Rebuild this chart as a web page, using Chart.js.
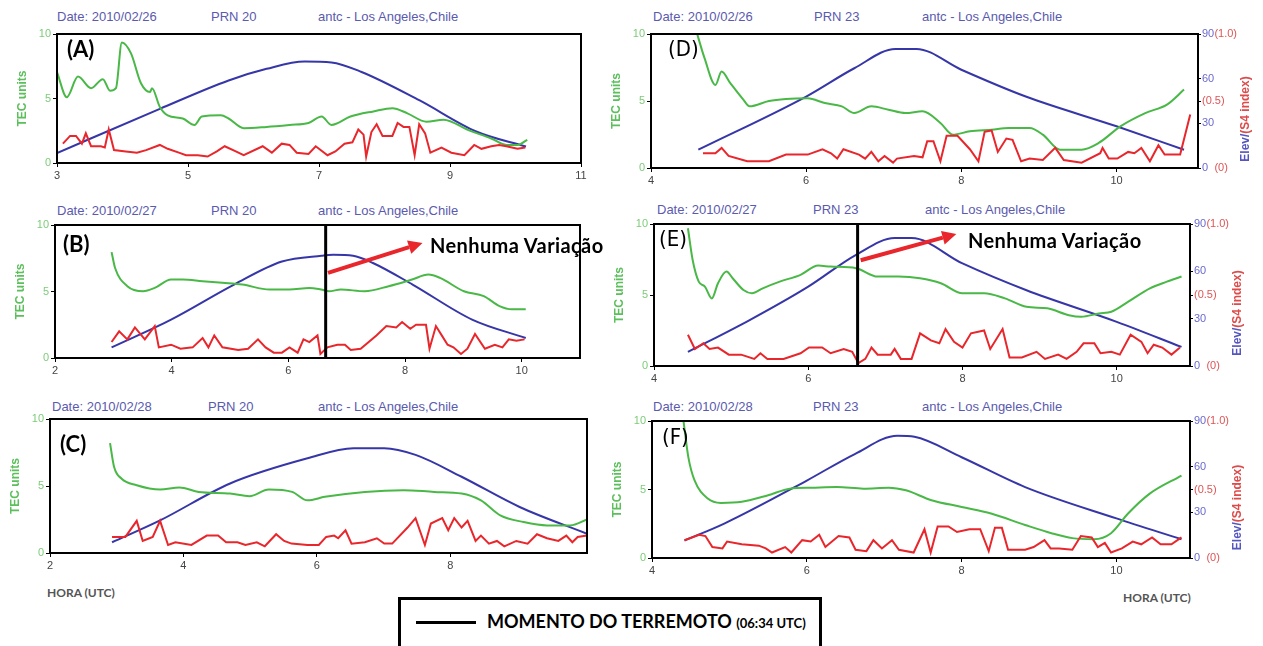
<!DOCTYPE html>
<html><head><meta charset="utf-8">
<script src="https://cdn.jsdelivr.net/npm/chart.js@4.4.1/dist/chart.umd.min.js"></script>
<style>
body{margin:0;background:#fff;width:1263px;height:646px;overflow:hidden;position:relative;font-family:"Liberation Sans",Arial,sans-serif}
canvas{position:absolute}
.hd{position:absolute;color:#5a5aae;font-size:13px;white-space:nowrap}
.lt{position:absolute;font:bold 22px Lato,sans-serif;color:#000}
.lt.n{font:22px "Liberation Sans Narrow","DejaVu Sans Condensed",sans-serif}
.nv{position:absolute;font:bold 20px Lato,sans-serif;letter-spacing:0.4px;color:#000;white-space:nowrap}
.hora{position:absolute;font:bold 12px Lato,sans-serif;color:#555}
#leg{position:absolute;left:398px;top:597px;width:418px;height:60px;border:3px solid #000}
</style></head><body>
<div class="hd" style="left:57px;top:9px">Date: 2010/02/26</div><div class="hd" style="left:211px;top:9px">PRN 20</div><div class="hd" style="left:318px;top:9px">antc - Los Angeles,Chile</div>
<div class="hd" style="left:57px;top:203px">Date: 2010/02/27</div><div class="hd" style="left:211px;top:203px">PRN 20</div><div class="hd" style="left:318px;top:203px">antc - Los Angeles,Chile</div>
<div class="hd" style="left:52px;top:399px">Date: 2010/02/28</div><div class="hd" style="left:208px;top:399px">PRN 20</div><div class="hd" style="left:318px;top:399px">antc - Los Angeles,Chile</div>
<div class="hd" style="left:653px;top:9px">Date: 2010/02/26</div><div class="hd" style="left:814px;top:9px">PRN 23</div><div class="hd" style="left:922px;top:9px">antc - Los Angeles,Chile</div>
<div class="hd" style="left:657px;top:202px">Date: 2010/02/27</div><div class="hd" style="left:813px;top:202px">PRN 23</div><div class="hd" style="left:925px;top:202px">antc - Los Angeles,Chile</div>
<div class="hd" style="left:653px;top:399px">Date: 2010/02/28</div><div class="hd" style="left:813px;top:399px">PRN 23</div><div class="hd" style="left:922px;top:399px">antc - Los Angeles,Chile</div>

<div class="hora" style="left:47px;top:585px">HORA (UTC)</div>
<div class="hora" style="left:1123px;top:590px">HORA (UTC)</div>
<div id="leg"></div>
<div style="position:absolute;left:416px;top:621px;width:60px;height:3px;background:#000"></div>
<div class="nv" style="left:487px;top:610px;font-size:18px;letter-spacing:0">MOMENTO DO TERREMOTO <span style="font-size:13px">(06:34 UTC)</span></div>

<script>
// x ticks / axis ticks
const ticksA=[3,5,7,9,11], ticksB=[2,4,6,8,10], ticksC=[2,4,6,8], ticksD=[4,6,8,10];
const tecTicks=[0,5,10];
const elevTicks=[0,30,45,60,90], elevLabels=['0','30','(0.5)','60','90'];
const s4Ticks=[0,1], s4Labels=['(0)','(1.0)'];
const quakeHour=6.64; // where the line sits in the figure

// (A) 2010/02/26 PRN 20
const aTecT=[3.0,3.15,3.32,3.52,3.7,3.81,3.9,3.99,4.13,4.28,4.42,4.45,4.57,4.69,4.92,5.1,5.21,5.5,5.62,5.85,6.2,6.55,6.84,7.04,7.19,7.48,7.83,8.12,8.35,8.64,8.9,9.28,9.63,9.86,10.03,10.18];
const aTec=[7.05,5.1,6.7,5.8,6.5,5.6,5.8,9.35,8.5,6.2,5.5,5.8,4.35,3.7,3.45,2.95,3.6,3.7,3.45,2.7,2.8,2.95,3.1,3.6,2.95,3.6,4.0,4.25,3.85,3.2,3.35,2.55,1.9,1.4,1.4,1.8];
const aElevT=[3.0,4.57,5.62,6.2,6.78,7.19,7.65,8.53,9.4,10.16];
const aElev=[6.9,37.8,57.6,65.7,70.8,70.2,63.5,43.8,22,11.5];
const aS4T=[3.09,3.2,3.29,3.38,3.44,3.52,3.67,3.73,3.79,3.87,4.05,4.22,4.36,4.57,4.69,4.86,4.97,5.15,5.3,5.44,5.56,5.73,5.85,6.14,6.28,6.43,6.55,6.66,6.84,6.95,7.13,7.25,7.39,7.51,7.6,7.68,7.72,7.8,7.88,7.97,8.12,8.2,8.29,8.38,8.46,8.53,8.62,8.7,8.87,9.02,9.22,9.37,9.48,9.63,9.75,9.86,10.03,10.15];
const aS4=[.15,.21,.21,.15,.23,.13,.13,.12,.26,.10,.09,.08,.10,.14,.11,.08,.06,.06,.05,.09,.13,.09,.06,.13,.08,.15,.14,.08,.07,.13,.06,.09,.15,.16,.26,.22,.05,.24,.30,.21,.21,.31,.28,.28,.06,.30,.23,.08,.12,.08,.06,.14,.11,.13,.14,.13,.11,.12];

// (B) 2010/02/27 PRN 20
const bTecT=[2.97,3.03,3.24,3.51,3.71,3.99,4.19,4.53,4.87,5.21,5.68,6.02,6.36,6.56,6.7,6.9,7.31,7.72,8.12,8.4,8.6,9.01,9.35,9.62,9.83,10.07];
const bTec=[7.96,6.77,5.4,5.02,5.27,5.9,5.9,5.77,5.65,5.52,5.15,5.15,5.27,5.15,5.02,5.15,5.02,5.4,5.9,6.27,6.02,5.02,4.65,3.9,3.66,3.66];
const bElevT=[2.97,3.99,5.07,5.89,6.57,6.77,7.11,7.45,8.13,9.15,10.07];
const bElev=[7.2,26,49.7,65.3,69.2,69.8,69.2,64.3,49.7,26,13.5];
const bS4T=[2.97,3.1,3.24,3.37,3.54,3.71,3.78,3.99,4.15,4.36,4.53,4.63,4.73,4.87,5.14,5.31,5.48,5.61,5.75,5.89,6.02,6.16,6.26,6.36,6.5,6.55,6.67,6.84,6.97,7.07,7.24,7.51,7.68,7.85,7.95,8.09,8.19,8.36,8.42,8.53,8.63,8.73,8.83,8.96,9.07,9.2,9.37,9.54,9.67,9.78,9.91,10.05];
const bS4=[.12,.20,.14,.23,.14,.24,.08,.10,.07,.08,.15,.08,.17,.08,.06,.07,.14,.08,.04,.04,.08,.04,.14,.12,.17,.03,.08,.10,.10,.06,.07,.17,.24,.23,.27,.22,.25,.25,.07,.24,.17,.10,.08,.03,.07,.18,.07,.10,.08,.14,.13,.14];

// (C) 2010/02/28 PRN 20
const cTecT=[2.9,2.96,3.07,3.3,3.65,3.94,4.23,4.7,4.99,5.28,5.63,5.86,6.12,6.72,7.3,7.76,8.17,8.46,8.75,9.1,9.45,9.8,10.05];
const cTec=[8.2,6.44,5.56,5.06,4.74,4.89,4.56,4.44,4.24,4.74,4.56,3.93,4.19,4.56,4.69,4.56,4.44,3.93,2.81,2.31,2.06,2.06,2.5];
const cElevT=[2.93,3.65,4.7,5.86,6.55,7.01,7.48,8.17,9.04,10.05];
const cElev=[7.2,21.9,46.7,63.6,70.4,70.4,65.9,51.2,30.9,12.9];
const cS4T=[2.93,3.13,3.3,3.39,3.54,3.65,3.77,3.88,4.12,4.35,4.52,4.64,4.81,4.93,5.1,5.22,5.39,5.51,5.62,5.86,6.03,6.14,6.26,6.32,6.43,6.52,6.72,6.9,7.01,7.13,7.36,7.48,7.62,7.71,7.88,7.97,8.06,8.17,8.26,8.38,8.46,8.58,8.7,8.81,8.99,9.16,9.3,9.45,9.62,9.74,9.83,9.91,10.05];
const cS4=[.12,.12,.24,.09,.12,.24,.06,.08,.06,.13,.13,.08,.08,.06,.08,.05,.14,.09,.07,.06,.06,.12,.13,.11,.17,.07,.08,.11,.07,.07,.19,.26,.06,.22,.26,.17,.26,.19,.24,.09,.13,.07,.09,.05,.09,.07,.14,.11,.09,.13,.08,.12,.13];

// (D) 2010/02/26 PRN 23
const dTecT=[4.58,4.69,4.83,4.91,5.02,5.19,5.27,5.52,5.74,6.02,6.24,6.46,6.62,6.84,7.06,7.28,7.5,7.73,7.89,8.11,8.39,8.61,8.88,9.05,9.27,9.55,9.77,10.05,10.37,10.65,10.87];
const dTec=[10.3,8.2,6.2,7.2,6.35,5.1,4.6,5.0,5.15,5.2,4.85,4.6,4.1,4.6,4.35,4.1,4.23,3.36,2.49,2.74,2.86,2.98,2.98,2.49,1.37,1.37,1.87,3.11,4.1,4.73,5.85];
const dElevT=[4.61,6.0,6.62,7.15,7.42,8.0,8.83,10.0,10.87];
const dElev=[12.3,48,67,80,80,66,48,28,12.3];
const dS4T=[4.67,4.83,4.91,5.0,5.24,5.52,5.74,6.02,6.21,6.32,6.4,6.48,6.68,6.76,6.84,6.93,7.01,7.12,7.17,7.39,7.5,7.56,7.64,7.73,7.81,7.95,8.11,8.22,8.3,8.39,8.47,8.58,8.66,8.77,8.88,9.05,9.21,9.32,9.55,9.79,9.82,9.9,10.01,10.15,10.23,10.32,10.43,10.54,10.62,10.82,10.95];
const dS4=[.11,.11,.15,.09,.05,.05,.10,.10,.14,.11,.07,.14,.10,.07,.12,.05,.09,.04,.07,.09,.08,.20,.20,.05,.24,.24,.14,.05,.27,.28,.12,.22,.21,.05,.07,.06,.15,.06,.04,.11,.15,.07,.07,.12,.11,.15,.05,.17,.10,.10,.40];

// (E) 2010/02/27 PRN 23
const eTecT=[4.44,4.5,4.58,4.66,4.75,4.83,4.94,5.02,5.16,5.27,5.41,5.63,5.9,6.13,6.29,6.62,6.9,7.17,7.45,7.72,8.0,8.28,8.55,8.83,9.1,9.38,9.54,9.77,9.93,10.15,10.43,10.65,10.84];
const eTec=[9.7,7.5,5.94,5.59,4.76,5.83,6.65,6.18,5.35,5.12,5.47,5.94,6.42,7.07,7.0,6.89,6.3,6.3,6.18,5.83,5.12,5.12,4.76,4.17,4.06,3.58,3.47,3.7,3.82,4.53,5.47,5.94,6.3];
const eElevT=[4.44,5.24,6.0,6.62,7.12,7.34,8.0,8.83,10.0,10.84];
const eElev=[8.9,29.1,50.3,70.5,81.1,81.1,65,48,28,12.1];
const eS4T=[4.44,4.53,4.64,4.72,4.83,4.97,5.13,5.3,5.38,5.47,5.68,5.9,6.01,6.18,6.29,6.46,6.57,6.65,6.74,6.82,6.9,7.07,7.12,7.2,7.34,7.45,7.59,7.7,7.78,7.89,8.0,8.11,8.28,8.36,8.52,8.61,8.77,8.96,9.07,9.24,9.35,9.48,9.57,9.71,9.79,9.93,10.04,10.18,10.32,10.4,10.48,10.59,10.71,10.82];
const eS4=[.22,.12,.16,.12,.13,.08,.08,.05,.09,.05,.05,.09,.13,.13,.09,.12,.10,.02,.05,.13,.08,.08,.12,.05,.05,.23,.18,.16,.26,.17,.13,.23,.25,.12,.26,.06,.06,.10,.05,.08,.05,.10,.16,.16,.09,.10,.08,.22,.17,.09,.15,.13,.08,.13];

// (F) 2010/02/28 PRN 23
const fTecT=[4.4,4.47,4.55,4.72,4.89,5.16,5.5,5.78,6.06,6.39,6.73,7.06,7.28,7.61,8.0,8.38,8.82,9.16,9.43,9.71,9.93,10.15,10.43,10.84];
const fTec=[10.3,7.35,5.66,4.34,4.02,4.1,4.58,5.06,5.13,5.18,5.06,5.13,4.94,4.22,3.73,3.25,2.41,1.81,1.45,1.37,1.81,3.25,4.7,6.02];
const fElevT=[4.42,4.94,6.0,6.62,7.17,7.39,8.0,8.82,10.0,10.84];
const fElev=[11.5,22.8,50.9,68.3,80.3,79.6,66.2,46.6,26,12.3];
const fS4T=[4.42,4.61,4.69,4.78,4.91,4.97,5.16,5.38,5.47,5.55,5.72,5.8,5.94,6.05,6.16,6.24,6.41,6.55,6.63,6.77,6.86,6.97,7.1,7.19,7.38,7.52,7.6,7.69,7.83,7.94,8.1,8.24,8.35,8.43,8.52,8.6,8.82,8.93,9.07,9.15,9.26,9.43,9.54,9.68,9.76,9.85,9.93,10.07,10.21,10.32,10.46,10.57,10.71,10.84];
const fS4=[.13,.17,.16,.08,.07,.12,.10,.09,.07,.04,.08,.04,.13,.12,.17,.08,.16,.15,.06,.05,.13,.07,.13,.06,.04,.21,.04,.23,.23,.19,.21,.21,.05,.22,.22,.06,.06,.08,.13,.07,.07,.06,.16,.15,.08,.11,.04,.07,.12,.10,.15,.10,.10,.15];

const GREEN='#49b847', RED='#e8262b', BLUE='#3636a8';
const pts=(xs,ys)=>xs.map((x,i)=>({x,y:ys[i]}));

// layout: plot box [left,top,right,bottom] in page px
const panels=[
 {id:'A',box:[57,34,581,163],xr:[3,11],xt:ticksA,tec:[aTecT,aTec],el:[aElevT,aElev],s4:[aS4T,aS4]},
 {id:'B',box:[55,225,580,358],xr:[2,11],xt:ticksB,tec:[bTecT,bTec],el:[bElevT,bElev],s4:[bS4T,bS4],quake:true,arrow:[6.68,6.4,8.3,8.65]},
 {id:'C',box:[50,419,587,553],xr:[2,10.05],xt:ticksC,tec:[cTecT,cTec],el:[cElevT,cElev],s4:[cS4T,cS4]},
 {id:'D',box:[651,34,1198,168],xr:[4,11.05],xt:ticksD,tec:[dTecT,dTec],el:[dElevT,dElev],s4:[dS4T,dS4],right:true},
 {id:'E',box:[654,224,1190,366],xr:[4,10.95],xt:ticksD,tec:[eTecT,eTec],el:[eElevT,eElev],s4:[eS4T,eS4],right:true,quake:true,arrow:[6.68,7.45,7.92,9.3]},
 {id:'F',box:[652,421,1190,558],xr:[4,10.95],xt:ticksD,tec:[fTecT,fTec],el:[fElevT,fElev],s4:[fS4T,fS4],right:true},
];
const letters={A:[67,35,1],B:[63,230,1],C:[60,430,1],D:[668,36,0],E:[659,226,0],F:[662,424,0]};

const frame={id:'frame',afterDatasetsDraw(c,a,o){
  const {ctx,chartArea:{left,top,right,bottom},scales:{x,y}}=c;
  ctx.save();
  if(o.quake){const px=x.getPixelForValue(quakeHour);ctx.strokeStyle='#000';ctx.lineWidth=3;ctx.beginPath();ctx.moveTo(px,top);ctx.lineTo(px,bottom);ctx.stroke();}
  if(o.arrow){
    const [x1,y1,x2,y2]=o.arrow, p1=[x.getPixelForValue(x1),y.getPixelForValue(y1)], p2=[x.getPixelForValue(x2),y.getPixelForValue(y2)];
    const ang=Math.atan2(p2[1]-p1[1],p2[0]-p1[0]), hl=14, hw=7;
    const bx=p2[0]-hl*Math.cos(ang), by=p2[1]-hl*Math.sin(ang);
    ctx.strokeStyle=RED;ctx.fillStyle=RED;ctx.lineWidth=4;
    ctx.beginPath();ctx.moveTo(p1[0],p1[1]);ctx.lineTo(bx,by);ctx.stroke();
    ctx.beginPath();ctx.moveTo(p2[0],p2[1]);ctx.lineTo(bx+hw*Math.sin(ang),by-hw*Math.cos(ang));ctx.lineTo(bx-hw*Math.sin(ang),by+hw*Math.cos(ang));ctx.closePath();ctx.fill();
  }
  ctx.strokeStyle='#000';ctx.lineWidth=2;ctx.strokeRect(left,top,right-left,bottom-top);
  if(o.elev){
    ctx.translate(right+48,(top+bottom)/2+18);ctx.rotate(-Math.PI/2);
    ctx.font='bold 12px "Liberation Sans",Arial';ctx.textBaseline='middle';
    const t1='Elev/',t2='(S4 index)',w1=ctx.measureText(t1).width,w2=ctx.measureText(t2).width,s=-(w1+w2)/2;
    ctx.fillStyle='#5555c0';ctx.fillText(t1,s,0);ctx.fillStyle='#dd4b4b';ctx.fillText(t2,s+w1,0);
  }
  ctx.restore();
}};

const tickFont={family:'"Liberation Sans",Arial',size:11};
const padL=48,padT=14,padB=24;
panels.forEach(p=>{
  const [L,T,R,B]=p.box, padR=p.right?72:12;
  const cv=document.createElement('canvas');
  cv.width=R-L+padL+padR;cv.height=B-T+padT+padB;
  cv.style.left=(L-padL)+'px';cv.style.top=(T-padT)+'px';
  document.body.appendChild(cv);
  const fixTicks=arr=>s=>{s.ticks=arr.map(v=>({value:v}))};
  new Chart(cv,{type:'line',
    data:{datasets:[
      {data:pts(...p.s4),borderColor:RED,yAxisID:'y3',tension:0},
      {data:pts(...p.tec),borderColor:GREEN,yAxisID:'y',cubicInterpolationMode:'monotone'},
      {data:pts(...p.el),borderColor:BLUE,yAxisID:'y2',cubicInterpolationMode:'monotone'}
    ]},
    options:{responsive:false,animation:false,events:[],
      layout:{padding:{top:padT,right:p.right?0:padR,left:0,bottom:0}},
      elements:{point:{radius:0},line:{borderWidth:2}},
      plugins:{legend:{display:false},tooltip:{enabled:false},frame:{quake:p.quake,arrow:p.arrow,elev:p.right}},
      scales:{
        x:{type:'linear',min:p.xr[0],max:p.xr[1],afterBuildTicks:fixTicks(p.xt),afterFit:s=>{s.height=padB},
           ticks:{color:'#444',font:tickFont,padding:2,autoSkip:false,maxRotation:0},
           grid:{drawOnChartArea:false,tickLength:4,color:'#000'},border:{display:false}},
        y:{min:0,max:10,afterBuildTicks:fixTicks(tecTicks),afterFit:s=>{s.width=padL},
           title:{display:true,text:'TEC units',color:'#5cbf5c',font:{family:'"Liberation Sans",Arial',size:12,weight:'bold'},padding:{top:6,bottom:0}},
           ticks:{color:'#7ccc78',font:tickFont,padding:2},grid:{drawOnChartArea:false,tickLength:4,color:'#000'},border:{display:false}},
        y2:{display:!!p.right,position:'right',min:0,max:90,afterBuildTicks:fixTicks(elevTicks),afterFit:s=>{s.width=p.right?32:0},
           ticks:{font:tickFont,padding:1,callback:v=>elevLabels[elevTicks.indexOf(v)],color:c=>c.tick&&c.tick.value===45?'#dd5555':'#6a6ad0'},
           grid:{drawOnChartArea:false,tickLength:3,color:'#000'},border:{display:false}},
        y3:{display:!!p.right,position:'right',min:0,max:1,afterBuildTicks:fixTicks(s4Ticks),afterFit:s=>{s.width=p.right?40:0},
           ticks:{font:tickFont,mirror:true,crossAlign:'far',padding:7,callback:v=>s4Labels[s4Ticks.indexOf(v)],color:'#dd5555'},
           grid:{display:false},border:{display:false}}
      }}
    ,plugins:[frame]});
  const lt=document.createElement('div');const [lx,ly,bold]=letters[p.id];
  lt.className='lt'+(bold?'':' n');lt.style.left=lx+'px';lt.style.top=ly+'px';lt.textContent='('+p.id+')';
  document.body.appendChild(lt);
});
[[430,233],[968,228]].forEach(([x,y])=>{const d=document.createElement('div');d.className='nv';d.style.left=x+'px';d.style.top=y+'px';d.textContent='Nenhuma Variação';document.body.appendChild(d);});
</script>
</body></html>
